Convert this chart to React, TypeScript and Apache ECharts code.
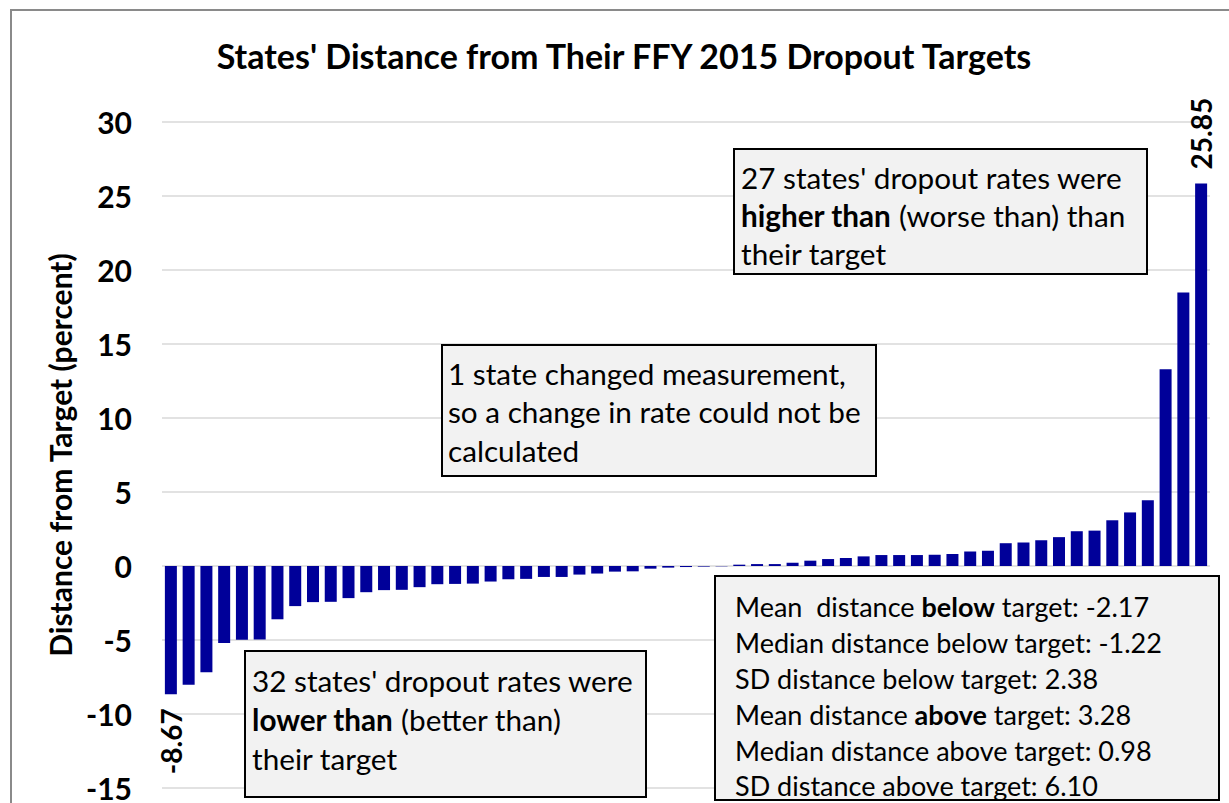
import React, { useEffect, useRef } from "react";
import * as echarts from "echarts";

// States below target (negative distance), sorted
const belowValues = [
  -8.67, -8.03, -7.18, -5.21, -4.99, -4.97, -3.6, -2.71, -2.44, -2.42, -2.17,
  -1.77, -1.63, -1.61, -1.43, -1.23, -1.21, -1.19, -1.05, -0.89, -0.87, -0.74,
  -0.74, -0.58, -0.51, -0.38, -0.36, -0.18, -0.11, -0.07, -0.04, -0.02,
];
// States above target (positive distance), sorted
const aboveValues = [
  0.09, 0.13, 0.13, 0.22, 0.36, 0.47, 0.54, 0.65, 0.74, 0.74, 0.74, 0.76, 0.81,
  0.98, 1.03, 1.54, 1.59, 1.74, 1.95, 2.35, 2.39, 3.09, 3.62, 4.45, 13.29,
  18.48, 25.85,
];
const values = [...belowValues, ...aboveValues];
const stateCategories = values.map((_, i) => `State ${i + 1}`);

const yMin = -15;
const yMax = 30;
const yInterval = 5;

const titleText = "States' Distance from Their FFY 2015 Dropout Targets";
const yAxisTitle = "Distance from Target (percent)";
const higherNote = [
  "27 states' dropout rates were",
  "{b|higher than} (worse than) than",
  "their target",
];
const changedNote = [
  "1 state changed measurement,",
  "so a change in rate could not be",
  "calculated",
];
const lowerNote = [
  "32 states' dropout rates were",
  "{b|lower than} (better than)",
  "their target",
];
const statsNote = [
  "Mean  distance {b|below} target: -2.17",
  "Median distance below target: -1.22",
  "SD distance below target: 2.38",
  "Mean distance {b|above} target: 3.28",
  "Median distance above target: 0.98",
  "SD distance above target: 6.10",
];

const FONT = "Lato, 'Open Sans', sans-serif";
const BAR_COLOR = "#000099";

function noteBox(
  x: number,
  y: number,
  w: number,
  h: number,
  lines: string[],
  fontSize: number,
  lineHeight: number,
  padLeft: number,
  padTop: number
) {
  return [
    {
      type: "rect",
      z: 10,
      shape: { x, y, width: w, height: h },
      style: { fill: "#f2f2f2", stroke: "#000000", lineWidth: 2 },
    },
    {
      type: "text",
      z: 11,
      x: x + padLeft,
      y: y + padTop,
      style: {
        text: lines.join("\n"),
        fill: "#000000",
        fontFamily: FONT,
        fontSize,
        lineHeight,
        align: "left",
        verticalAlign: "top",
        rich: {
          b: {
            fontWeight: "bold",
            fontFamily: FONT,
            fontSize,
            lineHeight,
            fill: "#000000",
          },
        },
      },
    },
  ];
}

export default function App() {
  const ref = useRef<HTMLDivElement>(null);

  useEffect(() => {
    if (!ref.current) return;
    const chart = echarts.init(ref.current, undefined, { renderer: "svg" });

    const lastIdx = values.length - 1;
    const labelBase = {
      show: true,
      rotate: 90,
      verticalAlign: "middle",
      distance: 14,
      formatter: (p: any) => p.value.toFixed(2),
      fontFamily: FONT,
      fontWeight: "bold",
      fontSize: 28,
      color: "#000",
    };
    const seriesData = values.map((v, i) => {
      if (i === 0) {
        return {
          value: v,
          label: { ...labelBase, position: "bottom", align: "right" },
        };
      }
      if (i === lastIdx) {
        return {
          value: v,
          label: { ...labelBase, position: "top", align: "left" },
        };
      }
      return v;
    });

    chart.setOption({
      animation: false,
      backgroundColor: "#ffffff",
      grid: { left: 162, right: 19, top: 122, bottom: 12, containLabel: false },
      xAxis: {
        type: "category",
        data: stateCategories,
        axisLine: { show: false },
        axisTick: { show: false },
        axisLabel: { show: false },
        splitLine: { show: false },
      },
      yAxis: {
        type: "value",
        min: yMin,
        max: yMax,
        interval: yInterval,
        axisLine: { show: false },
        axisTick: { show: false },
        axisLabel: {
          margin: 30,
          fontFamily: FONT,
          fontWeight: "bold",
          fontSize: 30,
          color: "#000",
        },
        splitLine: { lineStyle: { color: "#d9d9d9", width: 1.5 } },
        name: yAxisTitle,
        nameLocation: "middle",
        nameRotate: 90,
        nameGap: 82,
        nameTextStyle: {
          fontFamily: FONT,
          fontWeight: "bold",
          fontSize: 30,
          color: "#000",
        },
      },
      series: [
        {
          type: "bar",
          data: seriesData,
          barWidth: 12,
          itemStyle: { color: BAR_COLOR },
        },
      ],
      graphic: [
        {
          type: "rect",
          z: 0,
          silent: true,
          shape: { x: 11, y: 10, width: 1240, height: 820 },
          style: { fill: "none", stroke: "#8a8a8a", lineWidth: 2 },
        },
        {
          type: "text",
          z: 5,
          x: 624,
          y: 55,
          style: {
            text: titleText,
            fontFamily: FONT,
            fontWeight: "bold",
            fontSize: 34,
            fill: "#000",
            align: "center",
            verticalAlign: "middle",
          },
        },
        ...noteBox(734, 149, 413, 125, higherNote, 29.7, 38, 7, 9),
        ...noteBox(442, 345, 434, 131, changedNote, 29.7, 38.5, 6, 9),
        ...noteBox(245, 651, 401, 146, lowerNote, 29.7, 39, 7, 10),
        ...noteBox(715, 576, 504, 224, statsNote, 27, 35.8, 20, 13),
      ],
    });

    return () => chart.dispose();
  }, []);

  return (
    <div
      ref={ref}
      style={{ position: "fixed", left: 0, top: 0, width: 1229, height: 803 }}
    />
  );
}
